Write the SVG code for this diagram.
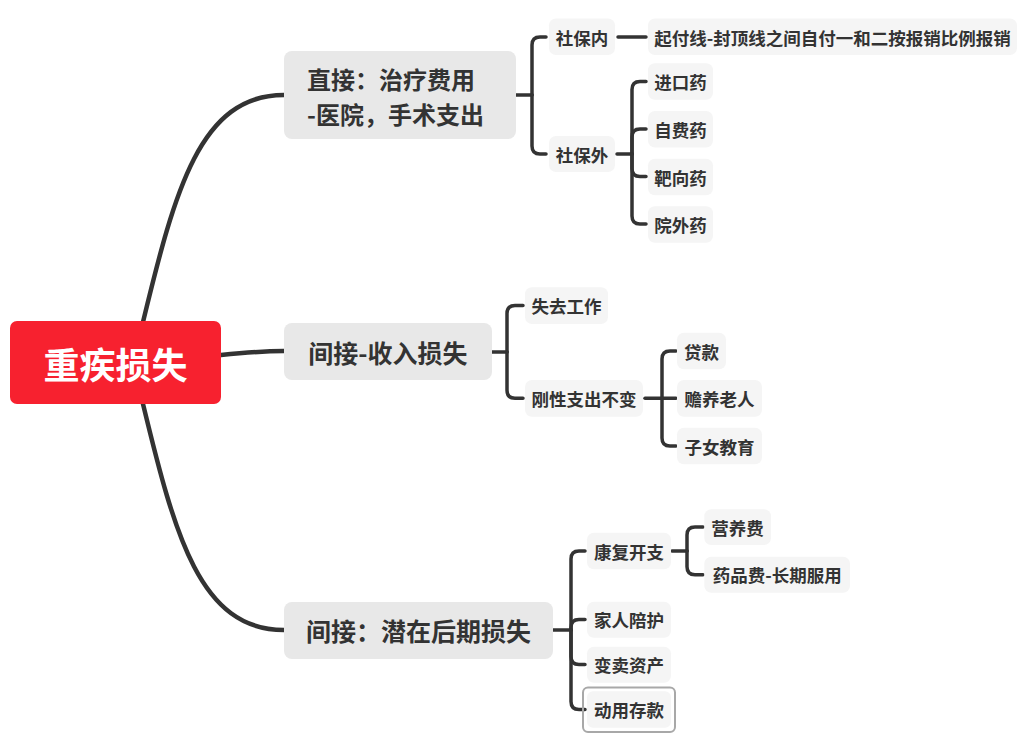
<svg xmlns="http://www.w3.org/2000/svg" width="1028" height="743" viewBox="0 0 1028 743">
<style>
.bg{fill:#ffffff}
.root{fill:#f7212f}
.main{fill:#e8e8e8}
.sub{fill:#f5f5f5}
.t{font-family:"Noto Sans CJK SC","Noto Sans",sans-serif;font-weight:bold;fill:#333333;dominant-baseline:central}
.tr{font-size:36px;fill:#ffffff;text-anchor:middle}
.tm{font-size:25px}
.tm2{font-size:24px}
.ts{font-size:17.5px;text-anchor:middle}
.c{fill:none;stroke:#333333;stroke-linecap:round;stroke-linejoin:round}
.c1{stroke-width:4.5}
.c2{stroke-width:3.5}
.sel{fill:none;stroke:#a8a8a8;stroke-width:2}
</style>
<rect class="bg" x="0" y="0" width="1028" height="743"/>
<g id="connectors">
<path class="c c1" d="M143,322 C175,190 200,95 284,95"/>
<path class="c c1" d="M221,355 C250,352 260,351 284,351"/>
<path class="c c1" d="M143,404 C175,536 200,630 284,630"/>
<path class="c c2" d="M516,95 H532"/>
<path class="c c2" d="M532,95 V45 Q532,37 540,37 H546"/>
<path class="c c2" d="M532,95 V146 Q532,154 540,154 H546"/>
<path class="c c2" d="M618,37 H646"/>
<path class="c c2" d="M617,154 H632"/>
<path class="c c2" d="M632,154 V89.5 Q632,81.5 640,81.5 H646"/>
<path class="c c2" d="M632,154 V137 Q632,129 640,129 H646"/>
<path class="c c2" d="M632,154 V168.5 Q632,176.5 640,176.5 H646"/>
<path class="c c2" d="M632,154 V216 Q632,224 640,224 H646"/>
<path class="c c2" d="M492,352 H507"/>
<path class="c c2" d="M507,352 V313.5 Q507,305.5 515,305.5 H523"/>
<path class="c c2" d="M507,352 V390.3 Q507,398.3 515,398.3 H523"/>
<path class="c c2" d="M645,398.3 H662"/>
<path class="c c2" d="M662,398.3 V359 Q662,351 670,351 H676"/>
<path class="c c2" d="M662,398.3 H676"/>
<path class="c c2" d="M662,398.3 V438 Q662,446 670,446 H676"/>
<path class="c c2" d="M553,630 H571"/>
<path class="c c2" d="M571,630 V559 Q571,551 579,551 H585"/>
<path class="c c2" d="M571,630 V627.5 Q571,619.5 579,619.5 H585"/>
<path class="c c2" d="M571,630 V656.5 Q571,664.5 579,664.5 H585"/>
<path class="c c2" d="M571,630 V701.5 Q571,709.5 579,709.5 H585"/>
<path class="c c2" d="M672,551 H687"/>
<path class="c c2" d="M687,551 V535 Q687,527 695,527 H703"/>
<path class="c c2" d="M687,551 V566.7 Q687,574.7 695,574.7 H703"/>
</g>
<g id="root">
<rect class="root" x="10" y="321" width="211" height="83" rx="7"/>
<text class="t tr" x="115.5" y="363">重疾损失</text>
</g>
<g id="direct">
<rect class="main" x="284" y="51" width="232" height="88" rx="8"/>
<text class="t tm2" x="307" y="78">直接：治疗费用</text>
<text class="t tm2" x="307" y="113.5">-医院，手术支出</text>
</g>
<g id="indirect-income">
<rect class="main" x="284" y="323" width="208" height="57" rx="8"/>
<text class="t tm" x="388" y="351.5" text-anchor="middle">间接-收入损失</text>
</g>
<g id="indirect-later">
<rect class="main" x="284" y="602" width="269" height="57" rx="8"/>
<text class="t tm" x="418.5" y="630" text-anchor="middle">间接：潜在后期损失</text>
</g>
<g id="sbn">
<rect class="sub" x="549" y="18.5" width="66" height="36.5" rx="7"/>
<text class="t ts" x="582" y="37">社保内</text>
</g>
<g id="qfx">
<rect class="sub" x="648" y="18.5" width="369" height="36.5" rx="7"/>
<text class="t ts" x="832.5" y="37">起付线-封顶线之间自付一和二按报销比例报销</text>
</g>
<g id="sbw">
<rect class="sub" x="549" y="136" width="66" height="36" rx="7"/>
<text class="t ts" x="582" y="154">社保外</text>
</g>
<g id="jky">
<rect class="sub" x="648" y="63.3" width="65" height="36.5" rx="7"/>
<text class="t ts" x="680.5" y="81.5">进口药</text>
</g>
<g id="zfy">
<rect class="sub" x="648" y="111" width="65" height="36.5" rx="7"/>
<text class="t ts" x="680.5" y="129.2">自费药</text>
</g>
<g id="bxy">
<rect class="sub" x="648" y="158.7" width="65" height="36.5" rx="7"/>
<text class="t ts" x="680.5" y="177">靶向药</text>
</g>
<g id="ywy">
<rect class="sub" x="648" y="206.3" width="65" height="36.5" rx="7"/>
<text class="t ts" x="680.5" y="224.5">院外药</text>
</g>
<g id="sqgz">
<rect class="sub" x="525" y="287.3" width="83" height="36.7" rx="7"/>
<text class="t ts" x="566.5" y="305.6">失去工作</text>
</g>
<g id="gxzc">
<rect class="sub" x="525" y="380" width="118" height="36.7" rx="7"/>
<text class="t ts" x="584" y="398.3">刚性支出不变</text>
</g>
<g id="dk">
<rect class="sub" x="677" y="332.7" width="49" height="36.6" rx="7"/>
<text class="t ts" x="701.5" y="351">贷款</text>
</g>
<g id="syln">
<rect class="sub" x="677" y="380" width="85" height="36.7" rx="7"/>
<text class="t ts" x="719.5" y="398.3">赡养老人</text>
</g>
<g id="znjy">
<rect class="sub" x="677" y="427.7" width="85" height="36.5" rx="7"/>
<text class="t ts" x="719.5" y="446">子女教育</text>
</g>
<g id="kfkz">
<rect class="sub" x="587" y="532.7" width="84" height="36.6" rx="7"/>
<text class="t ts" x="629" y="551">康复开支</text>
</g>
<g id="yyf">
<rect class="sub" x="704.3" y="509.3" width="66.7" height="35.7" rx="7"/>
<text class="t ts" x="737.6" y="527.2">营养费</text>
</g>
<g id="ypf">
<rect class="sub" x="704.3" y="556.7" width="145.7" height="36" rx="7"/>
<text class="t ts" x="777.2" y="574.7">药品费-长期服用</text>
</g>
<g id="jrpf">
<rect class="sub" x="587" y="601.7" width="84" height="36" rx="7"/>
<text class="t ts" x="629" y="619.7">家人陪护</text>
</g>
<g id="mmzc">
<rect class="sub" x="587" y="646.7" width="84" height="36" rx="7"/>
<text class="t ts" x="629" y="664.7">变卖资产</text>
</g>
<g id="dyck">
<rect class="sel" x="583" y="687.5" width="92" height="44.5" rx="5"/>
<rect class="sub" x="587" y="691.3" width="84" height="36.5" rx="6"/>
<text class="t ts" x="629" y="709.5">动用存款</text>
</g>
</svg>
